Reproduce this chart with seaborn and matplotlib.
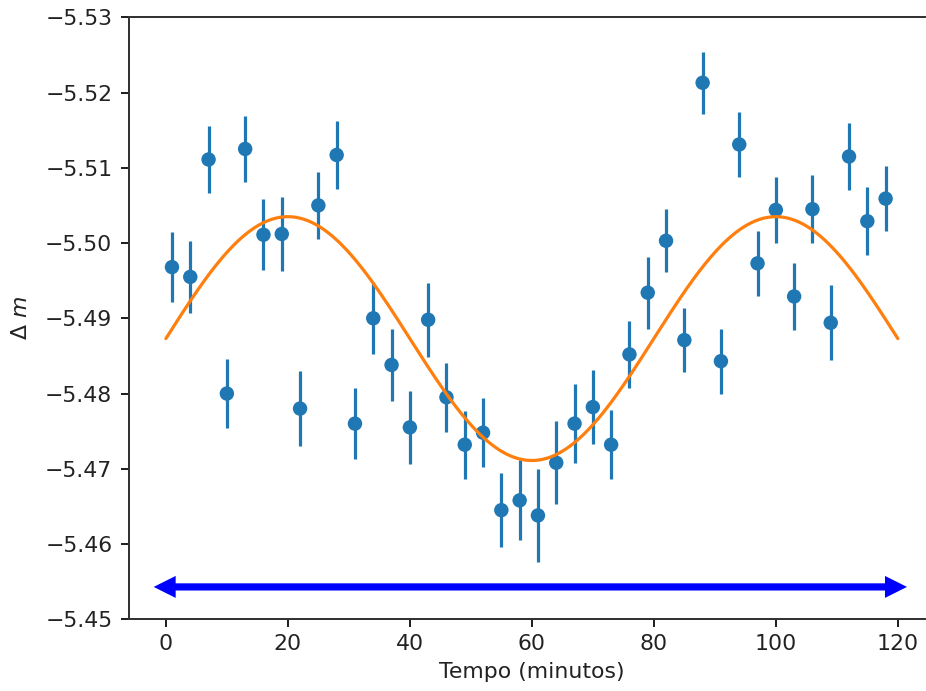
import numpy as np
import pandas as pd
import matplotlib
matplotlib.use("Agg")
import matplotlib.pyplot as plt
from matplotlib.patches import FancyArrowPatch
import seaborn as sns

# ---- data ----
tempo = [1, 4, 7, 10, 13, 16, 19, 22, 25, 28,
         31, 34, 37, 40, 43, 46, 49, 52, 55, 58,
         61, 64, 67, 70, 73, 76, 79, 82, 85, 88,
         91, 94, 97, 100, 103, 106, 109, 112, 115, 118]
delta_m = [-5.4968, -5.4955, -5.5111, -5.4800, -5.5125, -5.5011, -5.5012, -5.4780, -5.5050, -5.5117,
           -5.4760, -5.4900, -5.4838, -5.4755, -5.4898, -5.4795, -5.4732, -5.4748, -5.4645, -5.4658,
           -5.4638, -5.4708, -5.4760, -5.4782, -5.4732, -5.4852, -5.4934, -5.5003, -5.4871, -5.5213,
           -5.4843, -5.5131, -5.4973, -5.5044, -5.4929, -5.5045, -5.4894, -5.5115, -5.5029, -5.5059]
erro = [0.0047, 0.0048, 0.0044, 0.0046, 0.0044, 0.0047, 0.0049, 0.0050, 0.0045, 0.0045,
        0.0047, 0.0048, 0.0048, 0.0048, 0.0049, 0.0046, 0.0045, 0.0046, 0.0049, 0.0053,
        0.0062, 0.0055, 0.0052, 0.0049, 0.0046, 0.0045, 0.0048, 0.0042, 0.0043, 0.0041,
        0.0043, 0.0043, 0.0043, 0.0044, 0.0045, 0.0045, 0.0050, 0.0045, 0.0045, 0.0043]

# sinusoidal fit parameters
fit_offset = -5.4873
fit_amplitude = 0.0162
fit_period = 80.0
fit_range = (0, 120)

xticks = [0, 20, 40, 60, 80, 100, 120]
yticks = [-5.53, -5.52, -5.51, -5.50, -5.49, -5.48, -5.47, -5.46, -5.45]

arrow_x = (-2.0, 121.5)
arrow_y = -5.4543

# ---- figure ----
sns.set_style("ticks")
plt.rcParams["font.family"] = ["DejaVu Sans"]
fs = 11
plt.rcParams["font.size"] = fs
plt.rcParams["axes.labelsize"] = fs
plt.rcParams["xtick.labelsize"] = fs
plt.rcParams["ytick.labelsize"] = fs
plt.rcParams["mathtext.fontset"] = "dejavusans"

dpi = 144
fig = plt.figure(figsize=(926 / dpi, 691 / dpi), dpi=dpi)
ax = fig.add_axes([0.1396, 0.1038, 0.8695, 0.8712])

df = pd.DataFrame({"tempo": tempo, "dm": delta_m, "err": erro})
blue = "#1f77b4"
orange = "#ff7f0e"

ax.errorbar(df["tempo"], df["dm"], yerr=df["err"], fmt="none",
            ecolor=blue, elinewidth=1.6, capsize=0, zorder=2)
sns.scatterplot(data=df, x="tempo", y="dm", ax=ax, color=blue, s=52,
                edgecolor="none", linewidth=0, zorder=3)

xf = np.linspace(fit_range[0], fit_range[1], 400)
yf = fit_offset - fit_amplitude * np.sin(2 * np.pi * xf / fit_period)
sns.lineplot(x=xf, y=yf, ax=ax, color=orange, linewidth=1.6, zorder=4)

# double-headed arrow: main arrow (shaft + right head) and a head-only arrow on the left
head_style = "simple,head_length=1.1,head_width=1.1,tail_width={tw}"
main = FancyArrowPatch((arrow_x[0] + 2.5, arrow_y), (arrow_x[1], arrow_y),
                       arrowstyle=head_style.format(tw=0.36),
                       mutation_scale=10, lw=0, color="blue",
                       shrinkA=0, shrinkB=0, zorder=5)
ax.add_patch(main)
left_head = FancyArrowPatch((arrow_x[0] + 6.0, arrow_y), (arrow_x[0], arrow_y),
                            arrowstyle=head_style.format(tw=0.0),
                            mutation_scale=10, lw=0, color="blue",
                            shrinkA=0, shrinkB=0, zorder=5)
ax.add_patch(left_head)

ax.set_xlim(-6, 126)
ax.set_ylim(-5.45, -5.53)
ax.set_xticks(xticks)
ax.set_yticks(yticks)
ax.set_yticklabels([f"{v:.2f}".replace("-", "\u2212") for v in yticks])
ax.set_xlabel("Tempo (minutos)")
ax.set_ylabel(r"$\Delta\ m$")
ax.yaxis.set_label_coords(-0.122, 0.5)
for s in ax.spines.values():
    s.set_color("#333333")
    s.set_linewidth(1.0)
ax.tick_params(colors="#222222", length=4, width=1)
ax.tick_params(axis="y", pad=4.5)
ax.xaxis.label.set_color("#222222")
ax.yaxis.label.set_color("#222222")

fig.savefig("out.png", dpi=dpi)
